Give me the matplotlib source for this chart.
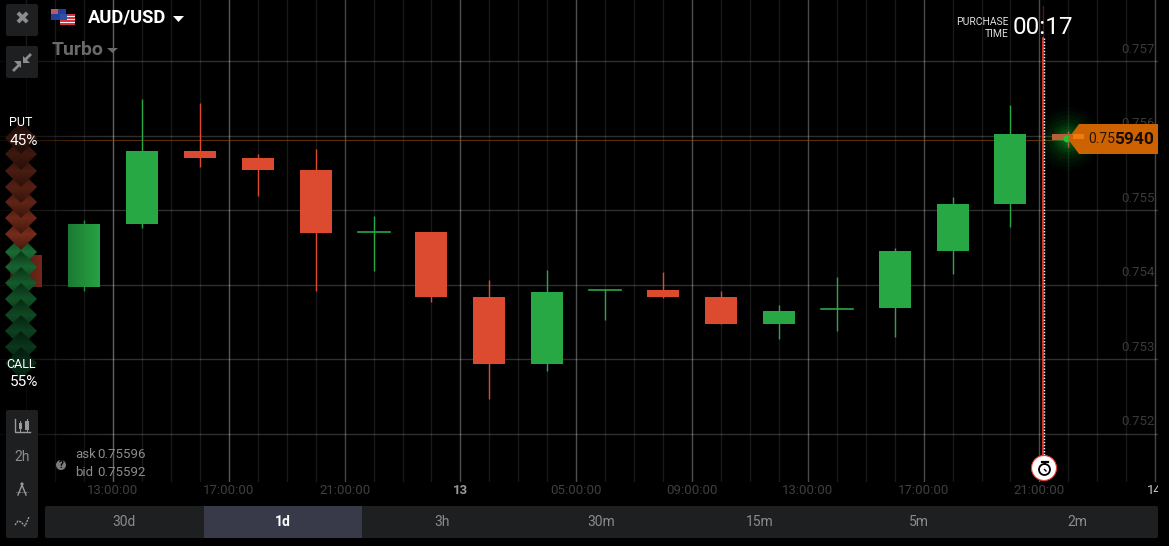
import matplotlib
matplotlib.use("Agg")
import matplotlib.pyplot as plt
import matplotlib.patches as mpatches
import numpy as np

plt.rcParams["font.family"] = ["Roboto", "DejaVu Sans"]

W, H = 1169, 546

# candles, hours counted from 00:00 on the 12th
hours = [10, 12, 14, 16, 18, 20, 22, 24, 26, 28, 30, 32, 34, 36, 38, 40, 42, 44, 46]
opens = [0.75440, 0.75397, 0.75481, 0.75579, 0.75570, 0.75554, 0.75470, 0.75470, 0.75383, 0.75293,
         0.75393, 0.75393, 0.75383, 0.75347, 0.75367, 0.75368, 0.75445, 0.75508, 0.75602]
highs = [0.75440, 0.75487, 0.75649, 0.75644, 0.75575, 0.75582, 0.75492, 0.75470, 0.75406, 0.75420,
         0.75394, 0.75417, 0.75391, 0.75373, 0.75410, 0.75449, 0.75517, 0.75641, 0.75606]
lows = [0.75397, 0.75391, 0.75476, 0.75558, 0.75519, 0.75391, 0.75418, 0.75377, 0.75246, 0.75284,
        0.75352, 0.75382, 0.75347, 0.75327, 0.75338, 0.75330, 0.75414, 0.75477, 0.75585]
closes = [0.75397, 0.75481, 0.75579, 0.75570, 0.75554, 0.75469, 0.75472, 0.75383, 0.75293, 0.75390,
          0.75394, 0.75383, 0.75347, 0.75364, 0.75369, 0.75445, 0.75508, 0.75602, 0.75594]

price_ticks = [0.752, 0.753, 0.754, 0.755, 0.756, 0.757]
time_hours = [13, 17, 21, 25, 29, 33, 37, 41, 45, 49]
time_labels = ["13:00:00", "17:00:00", "21:00:00", "13", "05:00:00", "09:00:00",
               "13:00:00", "17:00:00", "21:00:00", "14"]
grid_alpha = [0.32, 0.28, 0.2, 0.24, 0.24, 0.24, 0.22, 0.22, 0.22, 0.2]
periods = ["30d", "1d", "3h", "30m", "15m", "5m", "2m"]

GREEN = "#28a745"
RED = "#dc4a30"

fig = plt.figure(figsize=(W / 100, H / 100), dpi=100, facecolor="black")

# chart area in pixels: x 0..1158, y 0..482
ax = fig.add_axes([0, 1 - 482 / H, 1158 / W, 482 / H], facecolor="black")
x_per_h = 57.9 / 2
ax.set_xlim(13 - 113 / x_per_h, 13 + (1158 - 113) / x_per_h)
ax.set_ylim(0.757 - (482 - 61) / 74.5 * 0.001, 0.757 + 61 / 74.5 * 0.001)
ax.axis("off")

# everything else sits on a pixel overlay
ui = fig.add_axes([0, 0, 1, 1], facecolor="none")
ui.set_xlim(0, W)
ui.set_ylim(H, 0)
ui.set_autoscale_on(False)
ui.axis("off")

# faint hourly grid, brighter every four hours
for h in np.arange(10, 50):
    ax.axvline(h, color="#191919", lw=1, zorder=1)
for h, a in zip(time_hours, grid_alpha):
    ax.axvline(h, color="white", alpha=a, lw=1, zorder=1)
for p in price_ticks:
    ax.axhline(p, color="white", alpha=0.19, lw=1, zorder=1)
    ax.text(ax.get_xlim()[1] - 3 / x_per_h, p + 0.00016, f"{p:.3f}", color="#3a3a3a",
            fontsize=9.5, ha="right", va="center", zorder=2)
ax.axhline(closes[-1], color="#8a4a12", alpha=0.65, lw=0.8, zorder=1)

# glow on the live price, under the last candle
for r, a in zip([32, 28, 24, 20, 16, 13, 10, 7], [0.03, 0.04, 0.05, 0.07, 0.09, 0.11, 0.14, 0.18]):
    ax.add_patch(mpatches.Circle((1068, 139), r, fc="#0fae2e", ec="none", alpha=a, zorder=2,
                                 transform=ui.transData))

width = 32 / x_per_h
for h, o, hi, lo, c in zip(hours, opens, highs, lows, closes):
    col = GREEN if c >= o else RED
    if h == 46:
        col = "#b5603a"
    ax.plot([h, h], [lo, hi], color=col, lw=1, zorder=3, solid_capstyle="butt")
    body = abs(c - o)
    if body < 0.00003:
        ax.plot([h - width / 2, h + width / 2], [o, o], color=col, lw=1.2, zorder=3)
    else:
        ax.bar(h, body, width=width, bottom=min(o, c), color=col, zorder=3)

# chart fades out to the left
fade = np.zeros((1, 100, 4))
fade[0, :, 3] = np.linspace(0.8, 0, 100)
ui.imshow(fade, extent=(0, 104, 482, 60), aspect="auto", zorder=1)


def box(x, y, w, h, color, z=5):
    ui.add_patch(mpatches.FancyBboxPatch((x + 2, y + 2), w - 4, h - 4, boxstyle="round,pad=2",
                                         fc=color, ec="none", zorder=z))


def diamond(y, base, z):
    # vertical shading, brightest at the waist
    prof = np.concatenate([np.linspace(0.55, 1, 16), np.linspace(1, 0.6, 16)])
    img = np.outer(prof, base).reshape(32, 1, 3)
    poly = mpatches.Polygon([[5, y], [21, y - 16], [37, y], [21, y + 16]], fc="none", ec="none", zorder=z)
    ui.add_patch(poly)
    im = ui.imshow(img, extent=(5, 37, y + 16, y - 16), aspect="auto", zorder=z)
    im.set_clip_path(poly)


ui.add_patch(mpatches.Circle((1067, 139), 3.5, fc="#20c23e", ec="none", zorder=6))

# expiry line, fading near the top
ui.plot([1043, 1043], [6, 38], color="#ff3b30", lw=1, alpha=0.35, zorder=6)
ui.plot([1043, 1043], [38, 458], color="#ff3b30", lw=1.2, zorder=6)
ui.plot([1044, 1044], [38, 458], color="white", lw=1, ls=(0, (1, 1.2)), zorder=6)
ui.add_patch(mpatches.Circle((1044, 468), 12.5, fc="white", ec="#e8402f", lw=0.8, zorder=7))
ui.add_patch(mpatches.Circle((1044.5, 469.5), 5.5, fc="white", ec="black", lw=1.3, zorder=8))
ui.plot([1041.5, 1047.5], [461.5, 461.5], color="black", lw=1.6, zorder=8)
ui.plot([1044.5, 1044.5], [461.5, 464], color="black", lw=1.4, zorder=8)
ui.plot([1044.5, 1046], [469.5, 471], color="black", lw=1, zorder=8)

# price tag
ui.add_patch(mpatches.Polygon([[1068, 139], [1079, 124], [1158, 124], [1158, 154], [1079, 154]],
                              fc="#cc6200", ec="none", zorder=7))
ui.text(1088, 139, "0.75", color="#2d1600", fontsize=10, va="center", zorder=8)
ui.text(1114, 139, "5940", color="#1a0c00", fontsize=12.5, fontweight="bold", va="center", zorder=8)
ui.add_patch(mpatches.Rectangle((1073, 134), 11, 5, fc="#ee7a10", ec="none", zorder=8))

ui.text(1009, 22, "PURCHASE", color="#dddddd", fontsize=7.5, ha="right", va="center", zorder=8)
ui.text(1009, 34, "TIME", color="#dddddd", fontsize=7.5, ha="right", va="center", zorder=8)
ui.text(1013, 28, "00:17", color="white", fontsize=17.5, va="center", zorder=8)

# left buttons
box(6, 4, 32, 32, "#1e1f21")
ui.text(22, 20, "✖", color="#8c8c8c", fontsize=13, ha="center", va="center", family="DejaVu Sans", zorder=6)
box(6, 46, 32, 32, "#1e1f21")
ui.plot([14, 19], [70, 65], color="#8c8c8c", lw=2, zorder=6)
ui.plot([25, 30], [60, 55], color="#8c8c8c", lw=2, zorder=6)
ui.add_patch(mpatches.Polygon([[21, 61], [21, 68], [14, 61]], fc="#8c8c8c", ec="none", zorder=6))
ui.add_patch(mpatches.Polygon([[23, 63], [23, 56], [30, 63]], fc="#8c8c8c", ec="none", zorder=6))

# flags
ui.add_patch(mpatches.Rectangle((51, 9), 15, 11, fc="#22409a", ec="none", zorder=6))
ui.add_patch(mpatches.Rectangle((51, 9), 7, 5, fc="#b85a6a", ec="none", zorder=6))
ui.add_patch(mpatches.Rectangle((60, 14), 15, 11, fc="#f2f2f2", ec="none", zorder=7))
for y in [14, 17, 20, 23]:
    ui.add_patch(mpatches.Rectangle((60, y), 15, 1.5, fc="#d8343e", ec="none", zorder=7))
ui.add_patch(mpatches.Rectangle((60, 14), 7, 5.5, fc="#2f4fa8", ec="none", zorder=8))

ui.text(88, 18, "AUD/USD", color="white", fontsize=13.2, fontweight="bold", va="center", zorder=6)
ui.add_patch(mpatches.Polygon([[173, 16], [184, 16], [178.5, 22]], fc="white", ec="none", zorder=6))
ui.text(52, 50, "Turbo", color="#6a6a6a", fontsize=14, fontweight="bold", va="center", zorder=6)
ui.add_patch(mpatches.Polygon([[107, 48], [118, 48], [112.5, 53]], fc="#6a6a6a", ec="none", zorder=6))

# put/call diamonds: the first green goes under the reds, the rest over them
green_ys = [252, 267, 283, 299, 315, 331, 347, 363]
red_ys = [138, 154, 171, 187, 202, 218, 234]
green_bases = [np.array([0.10 - 0.07 * i / 7, 0.42 - 0.24 * i / 7, 0.20 - 0.11 * i / 7]) for i in range(8)]
red_bases = [np.array([0.20 + 0.26 * i / 6, 0.08 + 0.09 * i / 6, 0.05 + 0.05 * i / 6]) for i in range(7)]
z = 5.0
diamond(green_ys[0], green_bases[0], z)
for y, base in list(zip(red_ys, red_bases))[::-1]:
    z += 0.01
    diamond(y, base, z)
for y, base in list(zip(green_ys, green_bases))[1:]:
    z += 0.01
    diamond(y, base, z)

ui.text(21, 122, "PUT", color="white", fontsize=9, ha="center", va="center", zorder=8)
ui.text(24, 141, "45%", color="white", fontsize=11, ha="center", va="center", zorder=8)
ui.text(21, 364, "CALL", color="white", fontsize=9, ha="center", va="center", zorder=8)
ui.text(24, 382, "55%", color="white", fontsize=11, ha="center", va="center", zorder=8)

# tool strip
box(6, 410, 32, 128, "#1e1f21")
ui.plot([14.5, 14.5, 30], [419, 432, 432], color="#9a9a9a", lw=1, zorder=6)
ui.add_patch(mpatches.Rectangle((18.5, 423), 3.5, 6, fc="#9a9a9a", ec="none", zorder=6))
ui.add_patch(mpatches.Rectangle((24.5, 421), 4, 9, fc="#9a9a9a", ec="none", zorder=6))
ui.plot([20.2, 20.2], [421, 431], color="#9a9a9a", lw=0.7, zorder=6)
ui.plot([26.5, 26.5], [419, 431], color="#9a9a9a", lw=0.7, zorder=6)
ui.text(22, 457, "2h", color="#8c8c8c", fontsize=10, ha="center", va="center", zorder=6)
ui.plot([18, 22, 26], [495, 485, 495], color="#9a9a9a", lw=1, zorder=6)
ui.plot([16, 28], [492, 492], color="#9a9a9a", lw=0.7, ls=(0, (1, 1)), zorder=6)
ui.add_patch(mpatches.Circle((22, 484), 1.6, fc="#9a9a9a", ec="none", zorder=6))
ui.plot([15, 18, 21, 25, 29], [525, 521, 522, 526, 517], color="#9a9a9a", lw=1, ls=(0, (1.5, 0.7)), zorder=6)

# ask/bid
ui.add_patch(mpatches.Circle((61, 465), 5, fc="#7a7a7a", ec="none", zorder=6))
ui.text(61, 465, "?", color="black", fontsize=7, fontweight="bold", ha="center", va="center", zorder=7)
ui.text(75, 455, "ask", color="#8c8c8c", fontsize=9.5, va="center", zorder=6)
ui.text(97, 455, "0.75596", color="#8c8c8c", fontsize=9.5, va="center", zorder=6)
ui.text(75, 473, "bid", color="#8c8c8c", fontsize=9.5, va="center", zorder=6)
ui.text(97, 473, "0.75592", color="#8c8c8c", fontsize=9.5, va="center", zorder=6)

# time labels go through the same hour scale as the candles
for h, lab in zip(time_hours, time_labels):
    px = 113 + (h - 13) * x_per_h
    if lab == "14":
        ui.text(1147, 490.5, lab, color="#c8c8c8", fontsize=9.5, va="center", zorder=6)
        ui.add_patch(mpatches.Rectangle((1158, 480), 11, 20, fc="black", ec="none", zorder=7))
    else:
        col = "#9a9a9a" if lab == "13" else "#3f3f3f"
        weight = "bold" if lab == "13" else "normal"
        ui.text(px, 490.5, lab, color=col, fontsize=9.5, fontweight=weight, ha="center", va="center", zorder=6)

# period selector
box(45, 506, 1113, 32, "#1e1f21")
ui.add_patch(mpatches.Rectangle((204, 506), 158, 32, fc="#383a4a", ec="none", zorder=6))
for i, lab in enumerate(periods):
    selected = lab == "1d"
    ui.text(45 + 79 + i * 158.9, 522, lab, color="white" if selected else "#8c8c8c", fontsize=10,
            fontweight="bold" if selected else "normal", ha="center", va="center", zorder=7)

fig.savefig("out.png", dpi=100, facecolor="black")
print("Saved out.png")
